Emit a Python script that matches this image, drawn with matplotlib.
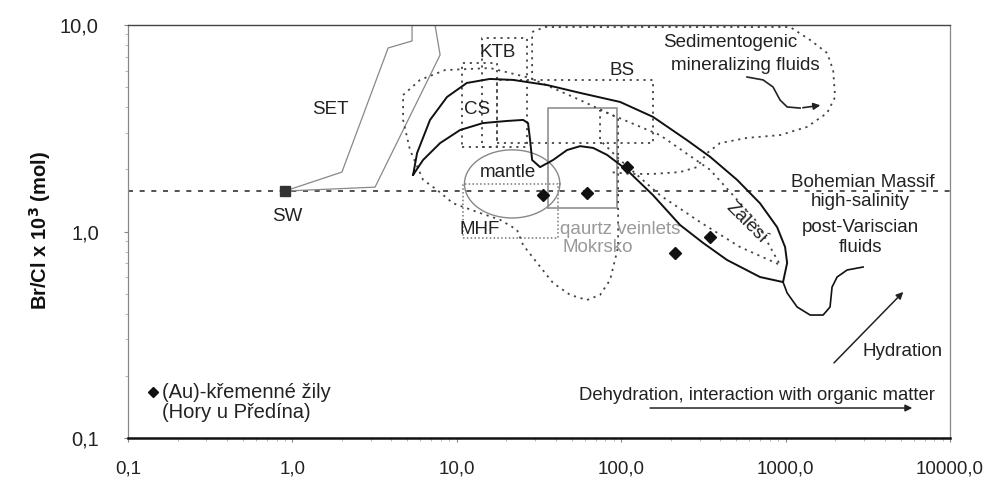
import matplotlib
matplotlib.use('Agg')
import matplotlib.pyplot as plt
import numpy as np
from matplotlib.ticker import FixedLocator, FixedFormatter, LogLocator, NullFormatter

plt.rcParams['font.family'] = ['Liberation Sans', 'DejaVu Sans']

# ---------------- data ----------------
x_ticks = [0.1, 1, 10, 100, 1000, 10000]
x_tick_labels = ['0,1', '1,0', '10,0', '100,0', '1000,0', '10000,0']
y_ticks = [0.1, 1, 10]
y_tick_labels = ['0,1', '1,0', '10,0']

sw_x, sw_y = [0.90], [1.57]
massif_line_y = 1.57

# (Au)-quartz veins, Hory u Předína
diamond_x = [33.4, 61.9, 108, 347, 212]
diamond_y = [1.50, 1.54, 2.05, 0.940, 0.787]

# SET field (thin grey outline)
set_x = [5.34, 5.34, 3.82, 2.00, 0.90, 3.18, 7.91, 7.37]
set_y = [10.0, 8.37, 7.74, 1.94, 1.57, 1.64, 7.16, 10.0]

# Bohemian Massif high-salinity fluids (solid black outline, incl. Zálesí)
banana_x = [5.42, 5.73, 6.87, 8.71, 11.5, 15.9, 22.0, 35.4, 56.2, 98.4, 156, 251,
            347, 506, 698, 887, 992, 1021, 964,
            698, 440, 315, 228, 156, 108, 82.0, 67.4, 56.2, 46.8, 38.5, 32.1,
            28.7, 27.9, 27.1, 25.3, 20.2, 14.4, 10.46, 7.91, 6.23, 5.42]
banana_y = [1.88, 2.40, 3.47, 4.48, 5.24, 5.48, 5.42, 5.12, 4.69, 4.24, 3.59, 2.77,
            2.30, 1.78, 1.37, 1.05, 0.841, 0.704, 0.569,
            0.602, 0.728, 0.88, 1.075, 1.50, 1.99, 2.35, 2.54, 2.59, 2.48, 2.22, 2.05,
            2.22, 2.77, 3.35, 3.47, 3.43, 3.35, 3.10, 2.68, 2.22, 1.88]

# tail curve leaving Zálesí
tail_x = [964, 1021, 1174, 1409, 1690, 1862, 1915, 2055, 2366, 2958]
tail_y = [0.569, 0.504, 0.431, 0.394, 0.394, 0.431, 0.538, 0.602, 0.651, 0.673]

# large dotted field (CS / Mokrsko)
fieldA_x = [4.71, 5.97, 8.47, 15.9, 27.9, 56.2, 95.7, 95.7, 85.5, 74.3, 61.9, 48.9,
            38.5, 30.8, 25.3, 23.2, 18.3, 13.8, 9.48, 7.58, 6.23, 5.19, 4.71, 4.71]
fieldA_y = [4.58, 5.42, 6.05, 6.19, 5.54, 4.33, 3.55, 0.841, 0.582, 0.493, 0.466, 0.493,
            0.563, 0.704, 0.860, 1.02, 1.14, 1.23, 1.37, 1.59, 1.78, 2.48, 3.47, 4.58]

# dotted band inside Zálesí
fieldB_x = [74.3, 172, 347, 652, 925, 528, 302, 172, 98.4, 74.3, 74.3]
fieldB_y = [3.88, 2.93, 1.99, 1.14, 0.689, 0.841, 1.11, 1.50, 2.22, 2.77, 3.88]

# sedimentogenic mineralizing fluids (dotted outline)
sed_x = [28.7, 28.7, 34.4, 1064, 1409, 1787, 1944, 1999, 1787, 1349, 925, 582,
         399, 333, 289, 228, 156, 113, 85.5]
sed_y = [5.42, 9.25, 9.78, 9.78, 8.46, 7.32, 6.05, 4.48, 3.75, 3.21, 2.93, 2.84,
         2.68, 2.40, 2.05, 1.94, 1.90, 1.90, 1.94]

# wavy arrow in sedimentogenic field
sed_arrow_x = [582, 729, 838, 925, 1021, 1224, 1690]
sed_arrow_y = [5.60, 5.42, 5.01, 4.33, 4.01, 3.96, 4.10]

# rectangles: (x0, x1, y0, y1)
ktb_box = (14.2, 26.7, 2.57, 8.65)
cs_box = (10.8, 17.6, 2.57, 6.55)
bs_box = (17.6, 156, 2.68, 5.42)
mhf_box = (10.9, 41.3, 0.93, 1.70)
mokrsko_box = (35.9, 94.4, 1.30, 3.96)

# mantle ellipse (centre, half-axes in decades)
mantle_center = (21.7, 1.70)
mantle_half_axes = (0.29, 0.165)

# arrows
hydration_from, hydration_to = (1915, 0.226), (5333, 0.521)
dehydration_from, dehydration_to = (144, 0.1397), (6124, 0.1397)

# ---------------- figure ----------------
fig = plt.figure(figsize=(9.94, 4.79), dpi=100)
ax = fig.add_axes([0.1288, 0.0856, 0.8270, 0.8622])
ax.set_xscale('log')
ax.set_yscale('log')
ax.set_xlim(0.1, 10000)
ax.set_ylim(0.1, 10)

dot = dict(color='#444444', lw=1.3, linestyle=(0, (1.2, 2.6)))
grey_dot = dict(color='#777777', lw=1.1, linestyle=(0, (1, 1.5)))

# horizontal massif / seawater line
ax.plot([0.1, 10000], [massif_line_y, massif_line_y], color='#333333', lw=1.2,
        linestyle=(0, (3, 4)), zorder=2)

ax.plot(set_x, set_y, color='#888888', lw=0.9, zorder=2)

def box(b, **kw):
    x0, x1, y0, y1 = b
    ax.plot([x0, x1, x1, x0, x0], [y0, y0, y1, y1, y0], **kw)

box(ktb_box, **dot)
box(cs_box, **dot)
box(bs_box, **dot)
box(mhf_box, **grey_dot)
box(mokrsko_box, color='#999999', lw=1.3)

ax.plot(fieldA_x, fieldA_y, **dot)
ax.plot(fieldB_x, fieldB_y, **dot)
ax.plot(sed_x, sed_y, **dot)

t = np.linspace(0, 2 * np.pi, 200)
ex = 10 ** (np.log10(mantle_center[0]) + mantle_half_axes[0] * np.cos(t))
ey = 10 ** (np.log10(mantle_center[1]) + mantle_half_axes[1] * np.sin(t))
ax.plot(ex, ey, color='#888888', lw=1.0)

ax.plot(banana_x, banana_y, color='#111111', lw=1.4, zorder=4)
ax.plot(tail_x, tail_y, color='#111111', lw=1.2, zorder=4)

ax.plot(sed_arrow_x[:-1], sed_arrow_y[:-1], color='#222222', lw=1.2)
ax.annotate('', xy=(sed_arrow_x[-1], sed_arrow_y[-1]),
            xytext=(sed_arrow_x[-2], sed_arrow_y[-2]),
            arrowprops=dict(arrowstyle='-|>', color='#222222', lw=1.2, mutation_scale=10))
ax.annotate('', xy=hydration_to, xytext=hydration_from,
            arrowprops=dict(arrowstyle='-|>', color='#222222', lw=1.1, mutation_scale=10))
ax.annotate('', xy=dehydration_to, xytext=dehydration_from,
            arrowprops=dict(arrowstyle='-|>', color='#222222', lw=1.1, mutation_scale=10))

ax.plot(sw_x, sw_y, marker='s', color='#333333', markersize=7, linestyle='none', zorder=5)
ax.plot(diamond_x, diamond_y, marker='D', color='#111111', markersize=6.5,
        linestyle='none', zorder=6)

fs = 13.5
tc = '#222222'
ax.text(1.69, 3.88, 'SET', fontsize=fs, color=tc, ha='center', va='center')
ax.text(0.927, 1.18, 'SW', fontsize=fs, color=tc, ha='center', va='center')
ax.text(17.6, 7.40, 'KTB', fontsize=fs, color=tc, ha='center', va='center')
ax.text(13.3, 3.88, 'CS', fontsize=fs, color=tc, ha='center', va='center')
ax.text(101, 6.05, 'BS', fontsize=fs, color=tc, ha='center', va='center')
ax.text(20.5, 1.94, 'mantle', fontsize=fs, color=tc, ha='center', va='center')
ax.text(13.8, 1.02, 'MHF', fontsize=fs, color=tc, ha='center', va='center')
ax.text(42.5, 1.02, 'qaurtz veinlets', fontsize=13.5, color='#999999', ha='left', va='center')
ax.text(43.7, 0.832, 'Mokrsko', fontsize=13.5, color='#999999', ha='left', va='center')
ax.text(459, 8.27, 'Sedimentogenic', fontsize=fs, color=tc, ha='center', va='center')
ax.text(566, 6.40, 'mineralizing fluids', fontsize=fs, color=tc, ha='center', va='center')
ax.text(2958, 1.72, 'Bohemian Massif', fontsize=fs, color=tc, ha='center', va='center')
ax.text(2838, 1.39, 'high-salinity', fontsize=fs, color=tc, ha='center', va='center')
ax.text(2838, 1.04, 'post-Variscian', fontsize=fs, color=tc, ha='center', va='center')
ax.text(2838, 0.832, 'fluids', fontsize=fs, color=tc, ha='center', va='center')
ax.text(582, 1.10, 'Zálesí', fontsize=fs, color=tc, ha='center', va='center', rotation=-45)
ax.text(5177, 0.261, 'Hydration', fontsize=fs, color=tc, ha='center', va='center')
ax.text(670, 0.1615, 'Dehydration, interaction with organic matter', fontsize=13.3,
        color=tc, ha='center', va='center')

# legend
ax.plot([0.142], [0.167], marker='D', color='#111111', markersize=5.5, linestyle='none')
ax.text(0.161, 0.167, '(Au)-křemenné žily', fontsize=14.5, color=tc, ha='left', va='center')
ax.text(0.161, 0.1336, '(Hory u Předína)', fontsize=14.5, color=tc, ha='left', va='center')

# axes styling
ax.xaxis.set_major_locator(FixedLocator(x_ticks))
ax.xaxis.set_major_formatter(FixedFormatter(x_tick_labels))
ax.yaxis.set_major_locator(FixedLocator(y_ticks))
ax.yaxis.set_major_formatter(FixedFormatter(y_tick_labels))
ax.xaxis.set_minor_locator(LogLocator(base=10, subs=np.arange(2, 10)))
ax.yaxis.set_minor_locator(LogLocator(base=10, subs=np.arange(2, 10)))
ax.xaxis.set_minor_formatter(NullFormatter())
ax.yaxis.set_minor_formatter(NullFormatter())
ax.tick_params(which='major', length=3, width=0.8, color='#888888', labelsize=13.5,
               labelcolor='#222222')
ax.tick_params(which='minor', length=2, width=0.6, color='#aaaaaa')
ax.tick_params(axis='x', which='major', pad=13)
ax.tick_params(axis='y', which='major', pad=18, labelsize=14.5)

for s in ['left', 'right']:
    ax.spines[s].set_color('#888888')
    ax.spines[s].set_linewidth(0.9)
ax.spines['top'].set_color('#444444')
ax.spines['top'].set_linewidth(1.0)
ax.spines['bottom'].set_color('#111111')
ax.spines['bottom'].set_linewidth(1.8)

fig.text(40 / 994, 1 - 230 / 479, r'Br/Cl x 10$^{\mathbf{3}}$ (mol)', rotation=90,
         fontsize=14.5, fontweight='bold', ha='center', va='center', color='#111111')

fig.savefig('out.png', dpi=100)
